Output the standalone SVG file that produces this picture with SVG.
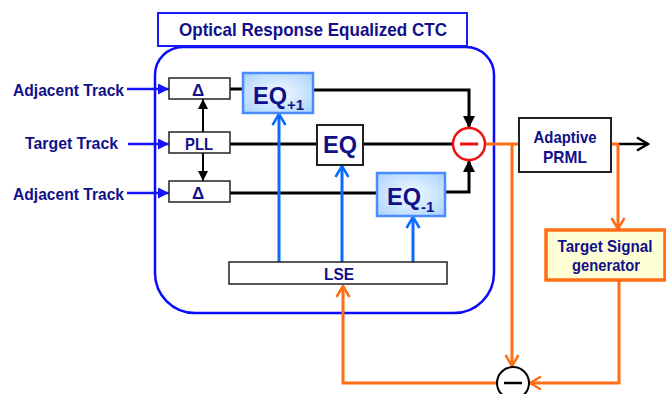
<svg xmlns="http://www.w3.org/2000/svg" width="666" height="394" viewBox="0 0 666 394">
<style>
.t{font-family:"Liberation Sans",Arial,sans-serif;font-weight:bold;fill:#10108a}
.box{fill:#fff;stroke:#222;stroke-width:1.5}
.eq{fill:url(#eqg);stroke:#4a8cff;stroke-width:2.5}
.blk{fill:none;stroke:#000;stroke-width:3}
.org{fill:none;stroke:#ff6e14;stroke-width:3}
.lb{fill:none;stroke:#0a6bff;stroke-width:3}
.inb{fill:none;stroke:#1414ff;stroke-width:2.5}
</style>
<defs>
<radialGradient id="eqg" cx="0.5" cy="0.5" r="0.7">
<stop offset="0" stop-color="#f4faff"/>
<stop offset="1" stop-color="#a8d2ff"/>
</radialGradient>
<marker id="fk" viewBox="0 0 12 12" refX="12" refY="6" markerWidth="12" markerHeight="12" markerUnits="userSpaceOnUse" orient="auto"><path d="M0,0 L12,6 L0,12 z" fill="#000"/></marker>
<marker id="fks" viewBox="0 0 10 10" refX="10" refY="5" markerWidth="10" markerHeight="10" markerUnits="userSpaceOnUse" orient="auto"><path d="M0,0 L10,5 L0,10 z" fill="#000"/></marker>
<marker id="fb" viewBox="0 0 11 11" refX="11" refY="5.5" markerWidth="11" markerHeight="11" markerUnits="userSpaceOnUse" orient="auto"><path d="M0,0 L11,5.5 L0,11 z" fill="#1414ff"/></marker>
<marker id="ol" viewBox="0 0 14 16" refX="12.5" refY="8" markerWidth="14" markerHeight="16" markerUnits="userSpaceOnUse" orient="auto"><path d="M1.5,1.5 L12.5,8 L1.5,14.5" fill="none" stroke="#0a6bff" stroke-width="2.5"/></marker>
<marker id="oo" viewBox="0 0 14 16" refX="12.5" refY="8" markerWidth="14" markerHeight="16" markerUnits="userSpaceOnUse" orient="auto"><path d="M1.5,1.5 L12.5,8 L1.5,14.5" fill="none" stroke="#ff6e14" stroke-width="2.5"/></marker>
<marker id="ok" viewBox="0 0 14 16" refX="12.5" refY="8" markerWidth="14" markerHeight="16" markerUnits="userSpaceOnUse" orient="auto"><path d="M1.5,1.5 L12.5,8 L1.5,14.5" fill="none" stroke="#000" stroke-width="2.5"/></marker>
</defs>
<rect width="666" height="394" fill="#fff"/>

<g id="ctc-container">
<path d="M183,47 H466 A28,28 0 0 1 494,75 V273 A40,40 0 0 1 454,313 H195 A40,40 0 0 1 155,273 V75 A28,28 0 0 1 183,47 Z" fill="#fff" stroke="#0a0aff" stroke-width="2.5"/>
</g>
<g id="title">
<rect x="158" y="13" width="309" height="33" fill="#fff" stroke="#1a1aff" stroke-width="2"/>
<text class="t" x="313" y="36" font-size="19" text-anchor="middle" textLength="268" lengthAdjust="spacingAndGlyphs">Optical Response Equalized CTC</text>
</g>

<g id="labels">
<text class="t" x="124" y="96" font-size="17" text-anchor="end" textLength="111" lengthAdjust="spacingAndGlyphs">Adjacent Track</text>
<text class="t" x="118" y="149" font-size="17" text-anchor="end" textLength="93" lengthAdjust="spacingAndGlyphs">Target Track</text>
<text class="t" x="124" y="200" font-size="17" text-anchor="end" textLength="111" lengthAdjust="spacingAndGlyphs">Adjacent Track</text>
</g>

<g id="connectors">
<path class="inb" d="M127,89 H169" marker-end="url(#fb)"/>
<path class="inb" d="M128,144 H169" marker-end="url(#fb)"/>
<path class="inb" d="M127,193 H169" marker-end="url(#fb)"/>
<path d="M203,132 V99" stroke="#000" stroke-width="2" marker-end="url(#fks)"/>
<path d="M203,153 V181" stroke="#000" stroke-width="2" marker-end="url(#fks)"/>
<path class="blk" d="M230,89 H243"/>
<path class="blk" d="M313,90 H469 V128" marker-end="url(#fk)"/>
<path class="blk" d="M230,144 H317"/>
<path class="blk" d="M363,144 H453"/>
<path class="blk" d="M230,193 H377"/>
<path class="blk" d="M445,192 H469 V160" marker-end="url(#fk)"/>
<path class="lb" d="M279,262 V114" marker-end="url(#ol)"/>
<path class="lb" d="M342,262 V166" marker-end="url(#ol)"/>
<path class="lb" d="M413,262 V217" marker-end="url(#ol)"/>
<path class="org" d="M485,144 H519"/>
<path class="org" d="M611,144 H619"/>
<path d="M619,144 H648" fill="none" stroke="#000" stroke-width="2.5" marker-end="url(#ok)"/>
<path class="org" d="M618,144 V229" marker-end="url(#oo)"/>
<path class="org" d="M512,144 V366" marker-end="url(#oo)"/>
<path class="org" d="M619,280 V383 H530" marker-end="url(#oo)"/>
<path class="org" d="M497,383 H343 V286" marker-end="url(#oo)"/>
</g>

<g id="delta-top">
<rect class="box" x="169" y="78" width="61" height="21"/>
<text class="t" x="198" y="96" font-size="17" text-anchor="middle">Δ</text>
</g>
<g id="pll">
<rect class="box" x="169" y="132" width="61" height="21"/>
<text class="t" x="199" y="150" font-size="16.5" text-anchor="middle" textLength="28" lengthAdjust="spacingAndGlyphs">PLL</text>
</g>
<g id="delta-bottom">
<rect class="box" x="169" y="181" width="61" height="21"/>
<text class="t" x="198" y="199" font-size="17" text-anchor="middle">Δ</text>
</g>

<g id="eq-plus1">
<rect class="eq" x="243" y="73" width="70" height="40"/>
<text class="t" x="253" y="104" font-size="23.5">EQ<tspan font-size="15" dy="6">+1</tspan></text>
</g>
<g id="eq">
<rect x="317" y="125" width="46" height="40" fill="#fff" stroke="#222" stroke-width="2"/>
<text class="t" x="340" y="153" font-size="23.5" text-anchor="middle">EQ</text>
</g>
<g id="eq-minus1">
<rect class="eq" x="377" y="173" width="68" height="43"/>
<text class="t" x="387" y="205" font-size="23.5">EQ<tspan font-size="15" dy="7">-1</tspan></text>
</g>

<g id="subtractor">
<circle cx="469" cy="144" r="16" fill="#fff" stroke="#ee1111" stroke-width="2.5"/>
<line x1="460" y1="144" x2="478" y2="144" stroke="#ee1111" stroke-width="3"/>
</g>

<g id="adaptive-prml">
<rect x="519" y="118" width="92" height="54" fill="#fff" stroke="#222" stroke-width="2"/>
<text class="t" x="565" y="143" font-size="17" text-anchor="middle" textLength="63" lengthAdjust="spacingAndGlyphs">Adaptive</text>
<text class="t" x="565" y="163" font-size="17" text-anchor="middle" textLength="44" lengthAdjust="spacingAndGlyphs">PRML</text>
</g>

<g id="target-signal-generator">
<rect x="546" y="230" width="119" height="50" fill="#ffffd6" stroke="#ff6e14" stroke-width="3.5"/>
<text class="t" x="605" y="252" font-size="16.5" text-anchor="middle" textLength="95" lengthAdjust="spacingAndGlyphs">Target Signal</text>
<text class="t" x="606" y="271" font-size="16.5" text-anchor="middle" textLength="68" lengthAdjust="spacingAndGlyphs">generator</text>
</g>

<g id="lse">
<rect class="box" x="229" y="262" width="218" height="22"/>
<text class="t" x="339" y="280" font-size="17" text-anchor="middle" textLength="30" lengthAdjust="spacingAndGlyphs">LSE</text>
</g>

<g id="error-subtractor">
<circle cx="513" cy="383" r="16" fill="#fff" stroke="#000" stroke-width="2"/>
<line x1="504" y1="383" x2="522" y2="383" stroke="#000" stroke-width="2.5"/>
</g>
</svg>
